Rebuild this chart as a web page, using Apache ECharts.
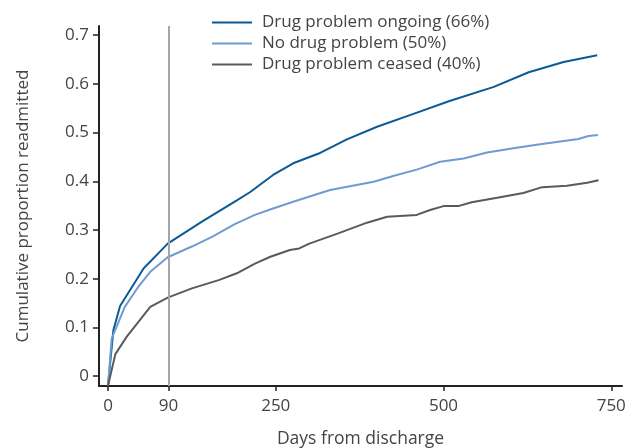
<!DOCTYPE html>
<html>
<head>
<meta charset="utf-8">
<script src="https://cdn.jsdelivr.net/npm/echarts@6/dist/echarts.min.js"></script>
<style>
  html, body { margin: 0; padding: 0; background: #fff; }
  #chart { width: 626px; height: 448px; }
</style>
</head>
<body>
<div id="chart"></div>
<script>
// [day, cumulative proportion]
const ongoing = [[0, -0.02], [8, 0.094], [18, 0.144], [53, 0.221], [89, 0.272], [140, 0.317], [192, 0.361],
  [212, 0.378], [246, 0.413], [276, 0.437], [314, 0.457], [356, 0.486], [401, 0.512], [450, 0.536],
  [509, 0.565], [575, 0.594], [627, 0.624], [679, 0.645], [729, 0.659]]
const noProblem = [[0, -0.02], [5.5, 0.077], [25, 0.142], [45, 0.183], [63, 0.214], [89, 0.244], [125, 0.266],
  [155, 0.286], [189, 0.312], [219, 0.331], [246, 0.344], [276, 0.358], [331, 0.382], [396, 0.399],
  [425, 0.411], [460, 0.424], [495, 0.44], [530, 0.447], [565, 0.459], [604, 0.468], [644, 0.476],
  [701, 0.487], [716, 0.493], [730, 0.495]]
const ceased = [[0, -0.02], [11, 0.045], [28, 0.081], [63, 0.142], [89, 0.161], [125, 0.18], [165, 0.197],
  [192, 0.211], [219, 0.231], [242, 0.245], [271, 0.259], [285, 0.262], [300, 0.272], [343, 0.293],
  [386, 0.315], [416, 0.327], [460, 0.331], [480, 0.341], [500, 0.349], [522, 0.349], [542, 0.357],
  [580, 0.366], [619, 0.376], [647, 0.388], [684, 0.391], [714, 0.397], [731, 0.402]]
const seriesNames = ['Drug problem ongoing (66%)', 'No drug problem (50%)', 'Drug problem ceased (40%)']
const xTicks = [0, 90, 250, 500, 750]
const yTicks = [0, 0.1, 0.2, 0.3, 0.4, 0.5, 0.6, 0.7]
const cutoffDay = 90

const font = 'Open Sans'
const textColor = '#444'

const chart = echarts.init(document.getElementById('chart'))

function lineSeries(name, data, color) {
  return {
    name: name,
    type: 'line',
    data: data,
    symbol: 'none',
    lineStyle: { color: color, width: 2 },
    itemStyle: { color: color }
  }
}

const series = [
  lineSeries(seriesNames[0], ongoing, '#0b5a96'),
  lineSeries(seriesNames[1], noProblem, '#6f9bd1'),
  lineSeries(seriesNames[2], ceased, '#5a5a5a')
]
series[0].markLine = {
  silent: true,
  symbol: 'none',
  label: { show: false },
  lineStyle: { color: '#a6a6a6', width: 2, type: 'solid' },
  data: [{ xAxis: cutoffDay }]
}

chart.setOption({
  animation: false,
  textStyle: { fontFamily: font },
  legend: {
    orient: 'vertical',
    left: 212,
    top: 14,
    padding: 0,
    icon: 'rect',
    itemWidth: 40,
    itemHeight: 2,
    itemGap: 4,
    textStyle: { fontFamily: font, fontSize: 17, lineHeight: 14, color: textColor, padding: [0, 0, 0, 5] },
    data: seriesNames
  },
  grid: { left: 99, right: 4, top: 26, bottom: 62, outerBoundsMode: 'none' },
  xAxis: {
    type: 'value',
    min: -13.4,
    max: 766,
    name: 'Days from discharge',
    nameLocation: 'middle',
    nameGap: 44,
    nameTextStyle: { fontFamily: font, fontSize: 17.5, color: textColor },
    axisLine: { show: true, onZero: false, lineStyle: { color: '#222', width: 2 } },
    axisTick: { show: true, length: 5, customValues: xTicks, lineStyle: { color: '#222', width: 1.5 } },
    axisLabel: { customValues: xTicks, fontFamily: font, fontSize: 17, color: textColor, margin: 12 },
    splitLine: { show: false }
  },
  yAxis: {
    type: 'value',
    min: -0.0205,
    max: 0.719,
    name: 'Cumulative proportion readmitted',
    nameLocation: 'middle',
    nameGap: 67,
    nameTextStyle: { fontFamily: font, fontSize: 17, color: textColor },
    axisLine: { show: true, onZero: false, lineStyle: { color: '#222', width: 2 } },
    axisTick: { show: true, length: 6, customValues: yTicks, lineStyle: { color: '#222', width: 1.5 } },
    axisLabel: {
      customValues: yTicks,
      fontFamily: font,
      fontSize: 17,
      color: textColor,
      margin: 10,
      formatter: v => (v === 0 ? '0' : v.toFixed(1))
    },
    splitLine: { show: false }
  },
  series: series
})
</script>
</body>
</html>
